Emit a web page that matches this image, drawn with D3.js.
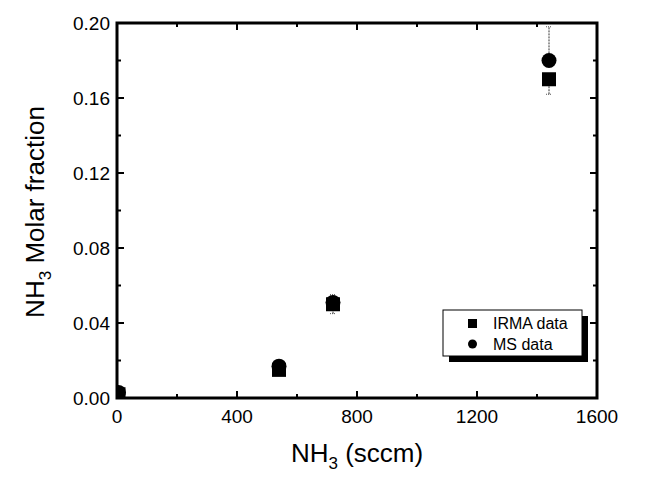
<!DOCTYPE html>
<html><head><meta charset="utf-8">
<script src="https://cdn.jsdelivr.net/npm/d3@7"></script>
<style>body{margin:0;background:#fff}svg{display:block}</style>
</head><body>
<svg id="c" width="651" height="479"></svg>
<script>
const xValues = [5, 540, 720, 1440];
const irmaValues = [0.002, 0.015, 0.050, 0.170];
const irmaErrLow = [0, 0.001, 0.005, 0.008];
const irmaErrHigh = [0, 0.001, 0.005, 0.001];
const msValues = [0.003, 0.017, 0.051, 0.180];
const msErrLow = [0, 0.001, 0.004, 0.001];
const msErrHigh = [0, 0.001, 0.004, 0.018];
const xTicks = [0, 400, 800, 1200, 1600];
const yTicks = [0.00, 0.04, 0.08, 0.12, 0.16, 0.20];
const seriesNames = ["IRMA data", "MS data"];

const svg = d3.select("#c");
const L = 117, R = 597, T = 23, B = 398;
const x = d3.scaleLinear().domain([0, 1600]).range([L, R]);
const y = d3.scaleLinear().domain([0, 0.20]).range([B, T]);
const font = "'Liberation Sans', Arial, sans-serif";

svg.append("clipPath").attr("id", "pc").append("rect")
  .attr("x", L).attr("y", T).attr("width", R - L).attr("height", B - T);
const g = svg.append("g").attr("clip-path", "url(#pc)");

function errbars(vals, lo, hi) {
  xValues.forEach((xv, i) => {
    if (lo[i] + hi[i] <= 0) return;
    const cx = x(xv);
    const y1 = y(vals[i] - lo[i]), y2 = y(vals[i] + hi[i]);
    g.append("line").attr("x1", cx).attr("x2", cx).attr("y1", y1).attr("y2", y2)
      .attr("stroke", "#333").attr("stroke-width", 1).attr("stroke-dasharray", "2,1");
    [y1, y2].forEach(yy => g.append("line").attr("x1", cx - 3).attr("x2", cx + 3)
      .attr("y1", yy).attr("y2", yy).attr("stroke", "#555").attr("stroke-width", 1).attr("stroke-dasharray", "1,1"));
  });
}
errbars(irmaValues, irmaErrLow, irmaErrHigh);
errbars(msValues, msErrLow, msErrHigh);

g.selectAll("circle.ms").data(xValues).join("circle").attr("class", "ms")
  .attr("cx", d => x(d)).attr("cy", (d, i) => y(msValues[i])).attr("r", 7.5).attr("fill", "#000");
g.selectAll("rect.irma").data(xValues).join("rect").attr("class", "irma")
  .attr("x", d => x(d) - 7).attr("y", (d, i) => y(irmaValues[i]) - 7)
  .attr("width", 14).attr("height", 14).attr("fill", "#000");

const major = 7, minor = 4;
const ag = svg.append("g").attr("stroke", "#000").attr("stroke-width", 2);
d3.range(0, 1601, 200).forEach(v => {
  const len = v % 400 === 0 ? major : minor;
  ag.append("line").attr("x1", x(v)).attr("x2", x(v)).attr("y1", B).attr("y2", B - len);
  ag.append("line").attr("x1", x(v)).attr("x2", x(v)).attr("y1", T).attr("y2", T + len);
});
d3.range(0, 11).forEach(k => {
  const v = k * 0.02;
  const len = k % 2 === 0 ? major : minor;
  ag.append("line").attr("x1", L).attr("x2", L + len).attr("y1", y(v)).attr("y2", y(v));
  ag.append("line").attr("x1", R).attr("x2", R - len).attr("y1", y(v)).attr("y2", y(v));
});
svg.append("rect").attr("x", L).attr("y", T).attr("width", R - L).attr("height", B - T)
  .attr("fill", "none").attr("stroke", "#000").attr("stroke-width", 3);

svg.selectAll("text.xt").data(xTicks).join("text").attr("class", "xt")
  .attr("x", d => x(d)).attr("y", B + 25).attr("text-anchor", "middle")
  .attr("font-family", font).attr("font-size", 19).text(d => d);
svg.selectAll("text.yt").data(yTicks).join("text").attr("class", "yt")
  .attr("x", L - 7).attr("y", d => y(d) + 7).attr("text-anchor", "end")
  .attr("font-family", font).attr("font-size", 19).text(d => d.toFixed(2));

const xt = svg.append("text").attr("x", 357).attr("y", 462).attr("text-anchor", "middle")
  .attr("font-family", font).attr("font-size", 26);
xt.append("tspan").text("NH");
xt.append("tspan").attr("font-size", 17).attr("dy", 7).text("3");
xt.append("tspan").attr("dy", -7).text(" (sccm)");

const yt = svg.append("text").attr("transform", "translate(44,212) rotate(-90)")
  .attr("text-anchor", "middle").attr("font-family", font).attr("font-size", 26);
yt.append("tspan").text("NH");
yt.append("tspan").attr("font-size", 17).attr("dy", 7).text("3");
yt.append("tspan").attr("dy", -7).text(" Molar fraction");

const lx = 443, ly = 310, lw = 139, lh = 46;
svg.append("rect").attr("x", lx + 6).attr("y", ly + 6).attr("width", lw).attr("height", lh).attr("fill", "#000");
svg.append("rect").attr("x", lx).attr("y", ly).attr("width", lw).attr("height", lh)
  .attr("fill", "#fff").attr("stroke", "#000").attr("stroke-width", 1);
svg.append("rect").attr("x", lx + 25).attr("y", ly + 9).attr("width", 9).attr("height", 9).attr("fill", "#000");
svg.append("circle").attr("cx", lx + 29.5).attr("cy", ly + 34).attr("r", 4.5).attr("fill", "#000");
seriesNames.forEach((n, i) => svg.append("text").attr("x", lx + 50).attr("y", ly + 19 + i * 21)
  .attr("font-family", font).attr("font-size", 16).text(n));
</script>
</body></html>
